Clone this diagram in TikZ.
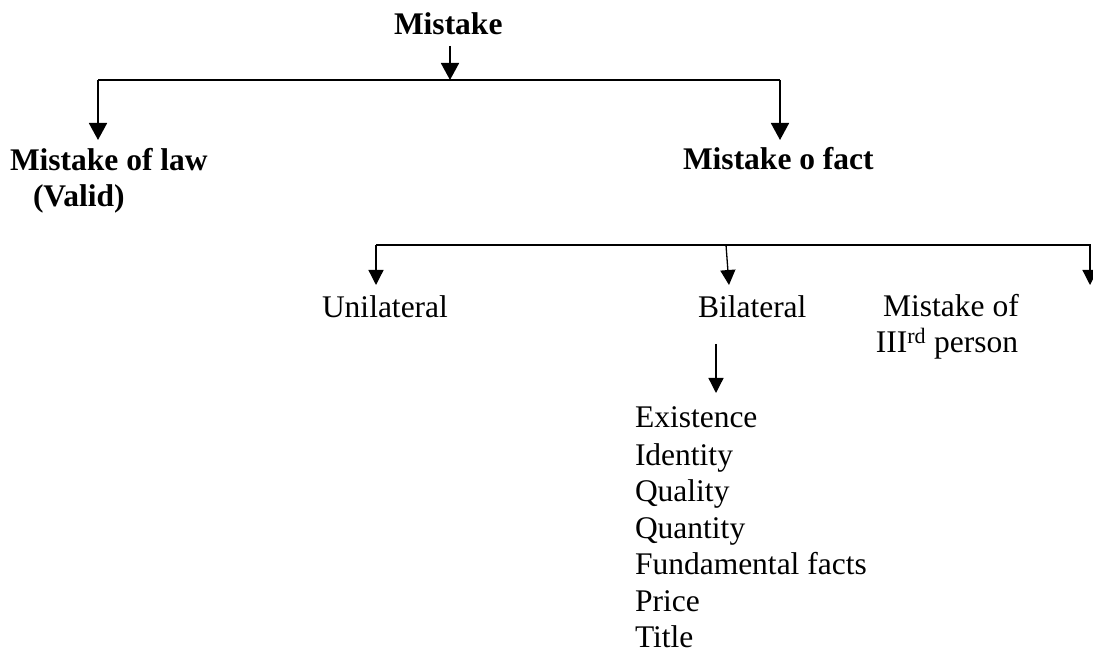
\documentclass[tikz,border=0pt]{standalone}
\usepackage{fontspec}
\setmainfont{Liberation Serif}
\usetikzlibrary{arrows.meta}
\begin{document}
\begin{tikzpicture}[x=1pt,y=-1pt,
  txt/.style={anchor=base west,inner sep=0pt,outer sep=0pt,font=\fontsize{31.5}{36.5}\selectfont},
  btxt/.style={txt,font=\fontsize{31.5}{36.5}\selectfont\bfseries},
  lvlone/.style={line width=1.8pt,-{Triangle[length=17pt,width=18pt]}},
  lvlonebar/.style={line width=1.8pt},
  lvltwo/.style={line width=1.3pt,-{Triangle[length=15pt,width=15pt]}},
  lvltwobar/.style={line width=1.3pt}]
\useasboundingbox (0,0) rectangle (1093,652);
% texts
\node[btxt] (root) at (394,35) {Mistake};
\node[btxt] (law) at (10,171) {Mistake of law};
\node[btxt] (valid) at (33,207) {(Valid)};
\node[btxt] (fact) at (683,170) {Mistake o fact};
\node[txt] (uni) at (322,318) {Unilateral};
\node[txt] (bi) at (698,318) {Bilateral};
\node[txt,anchor=base] (thirda) at (951,317) {Mistake of};
\node[txt,anchor=base] (thirdb) at (947,353) {III\textsuperscript{rd} person};
\node[txt] (l1) at (635,428) {Existence};
\node[txt] (l2) at (635,465) {Identity};
\node[txt] (l3) at (635,501) {Quality};
\node[txt] (l4) at (635,538) {Quantity};
\node[txt] (l5) at (635,574) {Fundamental facts};
\node[txt] (l6) at (635,611) {Price};
\node[txt] (l7) at (635,647) {Title};
% coordinates
\coordinate (r0) at (450,46);
\coordinate (r1) at (450,80);
\coordinate (bl) at (98,80);
\coordinate (br) at (780,80);
\coordinate (tlaw) at (98,140);
\coordinate (tfact) at (780,140);
\coordinate (sl) at (376,245);
\coordinate (sm) at (726,245);
\coordinate (sr) at (1091,245);
\coordinate (sr2) at (1090,245);
\coordinate (tuni) at (376,285);
\coordinate (tbi) at (729,285);
\coordinate (tthird) at (1090,285);
\coordinate (b0) at (716,344);
\coordinate (tlist) at (716,393);
% connectors
\draw[lvlone] (r0) -- (r1);
\draw[lvlonebar] (bl) -- (br);
\draw[lvlone] (bl) -- (tlaw);
\draw[lvlone] (br) -- (tfact);
\draw[lvltwobar] (sl) -- (sr);
\draw[lvltwo] (sl) -- (tuni);
\draw[lvltwo] (sm) -- (tbi);
\draw[lvltwo] (sr2) -- (tthird);
\draw[lvltwo] (b0) -- (tlist);
\end{tikzpicture}
\end{document}
